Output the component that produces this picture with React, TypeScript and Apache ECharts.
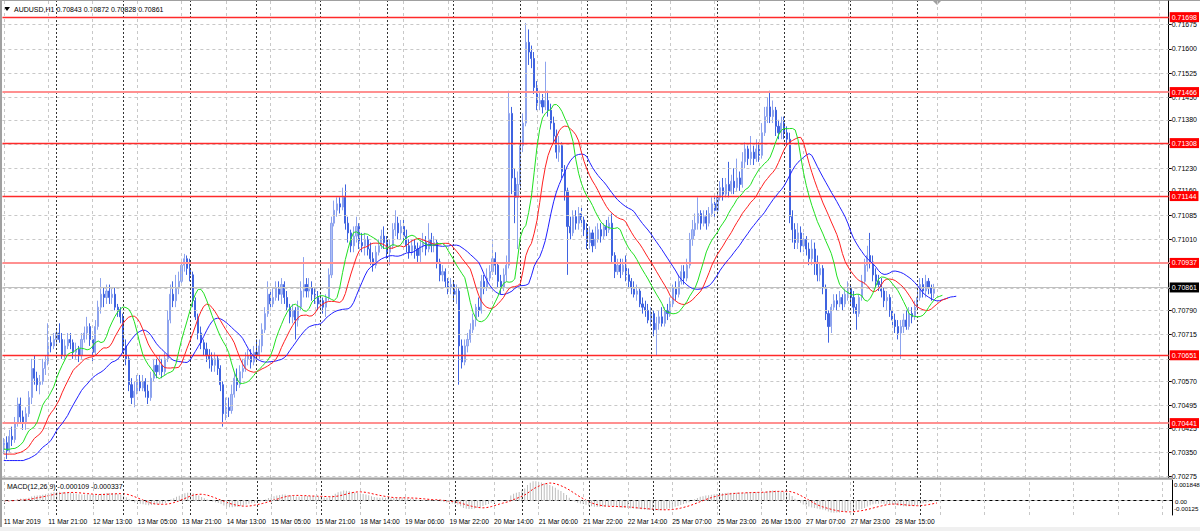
import React, { useEffect, useRef } from "react";
import * as echarts from "echarts";

// ---------- DATA ----------
const SYMBOL = "AUDUSD,H1";
const TIME_LABELS = [
  "11 Mar 2019", "11 Mar 21:00", "12 Mar 13:00", "13 Mar 05:00", "13 Mar 21:00",
  "14 Mar 13:00", "15 Mar 05:00", "15 Mar 21:00", "18 Mar 14:00", "19 Mar 06:00",
  "19 Mar 22:00", "20 Mar 14:00", "21 Mar 06:00", "21 Mar 22:00", "22 Mar 14:00",
  "25 Mar 07:00", "25 Mar 23:00", "26 Mar 15:00", "27 Mar 07:00", "27 Mar 23:00",
  "28 Mar 15:00",
];
const TIME_LABEL_STEP = 16; // bars between time labels / vertical grid lines
const DAY_STARTS = [19, 43, 67, 91, 114, 138, 162, 186, 210, 233, 257, 281, 305, 329];
const PRICE_TICKS = [
  0.71675, 0.716, 0.71525, 0.7145, 0.7138, 0.71305, 0.7123, 0.7116, 0.71085, 0.7101,
  0.70935, 0.7086, 0.7079, 0.70715, 0.7064, 0.7057, 0.70495, 0.70425, 0.7035, 0.70275,
];
const RED_LEVELS = [0.71698, 0.71308, 0.71144, 0.70651];
const PINK_LEVELS = [0.71466, 0.70937, 0.70441];
const MACD_HEADER_VALUES = [-0.000109, -0.000337];
const MACD_AXIS_LABELS = ["0.001848", "0.00", "-0.00125"];
const MACD_MAX = 0.001848;
const MACD_MIN = -0.00128;
const JAW_SEED = 0.70325;
const TEETH_SEED = 0.70345;
const LIPS_SEED = 0.7036;

// hourly candles [open, high, low, close] in 1e-5 units, 11 Mar 05:00 .. 29 Mar 06:00
const CANDLES: number[][] = [
  // 11 Mar
  [70360,70395,70345,70380],[70380,70400,70330,70355],[70355,70420,70350,70400],[70400,70430,70370,70390],
  [70390,70460,70380,70440],[70440,70520,70430,70500],[70500,70520,70440,70460],[70460,70480,70420,70440],
  [70440,70490,70420,70470],[70470,70540,70460,70520],[70520,70640,70500,70610],[70610,70650,70560,70580],
  [70580,70600,70540,70560],[70560,70590,70530,70570],[70570,70640,70560,70610],[70610,70650,70590,70630],
  [70630,70750,70620,70690],[70690,70710,70660,70680],[70680,70720,70670,70700],
  // 12 Mar
  [70700,70730,70680,70720],[70720,70750,70690,70700],[70700,70720,70640,70650],[70650,70700,70640,70680],
  [70680,70720,70670,70700],[70700,70720,70670,70690],[70690,70700,70640,70660],[70660,70690,70640,70670],
  [70670,70680,70630,70650],[70650,70720,70640,70700],[70700,70740,70690,70720],[70720,70770,70700,70740],
  [70740,70750,70680,70700],[70700,70710,70630,70660],[70660,70760,70650,70740],[70740,70820,70730,70800],
  [70800,70890,70780,70840],[70840,70860,70800,70830],[70830,70870,70810,70850],[70850,70870,70810,70830],
  [70830,70860,70810,70840],[70840,70860,70790,70800],[70800,70810,70770,70790],[70790,70800,70750,70770],
  // 13 Mar
  [70770,70780,70660,70680],[70680,70700,70620,70640],[70640,70650,70540,70560],[70560,70580,70500,70520],
  [70520,70570,70490,70540],[70540,70590,70530,70570],[70570,70590,70540,70550],[70550,70590,70540,70570],
  [70570,70580,70520,70540],[70540,70560,70500,70520],[70520,70600,70510,70580],[70580,70640,70570,70620],
  [70620,70640,70580,70600],[70600,70650,70590,70620],[70620,70640,70580,70600],[70600,70660,70590,70640],
  [70640,70790,70630,70760],[70760,70870,70750,70840],[70840,70880,70800,70820],[70820,70900,70800,70860],
  [70860,70910,70840,70880],[70880,70950,70870,70930],[70930,70965,70910,70950],[70950,70960,70900,70920],
  // 14 Mar
  [70920,70950,70880,70900],[70900,70910,70800,70820],[70820,70830,70760,70770],[70770,70780,70700,70720],
  [70720,70740,70670,70690],[70690,70700,70650,70670],[70670,70690,70630,70650],[70650,70670,70610,70640],
  [70640,70660,70600,70620],[70620,70660,70600,70640],[70640,70650,70590,70610],[70610,70620,70540,70560],
  [70560,70570,70430,70470],[70470,70520,70450,70490],[70490,70520,70460,70480],[70480,70560,70470,70530],
  [70530,70600,70520,70580],[70580,70610,70540,70560],[70560,70620,70550,70600],[70600,70640,70580,70610],
  [70610,70660,70600,70640],[70640,70670,70620,70650],[70650,70670,70610,70630],[70630,70680,70620,70660],
  // 15 Mar
  [70660,70700,70630,70650],[70650,70700,70640,70680],[70680,70750,70660,70730],[70730,70800,70720,70780],
  [70780,70880,70770,70840],[70840,70850,70790,70810],[70810,70860,70800,70830],[70830,70880,70820,70860],
  [70860,70880,70820,70840],[70840,70890,70810,70870],[70870,70880,70810,70830],[70830,70850,70790,70800],
  [70800,70810,70750,70770],[70770,70810,70750,70790],[70790,70800,70700,70760],[70760,70820,70740,70800],
  [70800,70880,70790,70850],[70850,70955,70830,70870],[70870,70890,70830,70850],[70850,70890,70830,70860],
  [70860,70880,70820,70840],[70840,70860,70810,70830],[70830,70850,70790,70810],
  // 18 Mar
  [70810,70840,70790,70820],[70820,70830,70780,70800],[70800,70840,70770,70830],[70830,70920,70820,70900],
  [70900,71080,70890,71060],[71060,71130,71050,71100],[71100,71140,71080,71120],[71120,71140,71090,71110],
  [71110,71170,71100,71140],[71140,71180,71040,71060],[71060,71080,71000,71030],[71030,71040,70970,70990],
  [70990,71050,70970,71020],[71020,71080,71000,71050],[71050,71060,70980,71000],[71000,71030,70970,70990],
  [70990,71030,70960,71010],[71010,71020,70960,70980],[70980,71000,70930,70950],[70950,70970,70910,70930],
  [70930,70990,70920,70970],[70970,71010,70960,70990],[70990,71040,70980,71020],[71020,71050,70980,71000],
  // 19 Mar
  [71000,71020,70950,70970],[70970,71010,70930,70990],[70990,71060,70980,71040],[71040,71100,71020,71060],
  [71060,71080,71010,71030],[71030,71070,71010,71050],[71050,71070,71000,71020],[71020,71040,70970,70990],
  [70990,71010,70950,70970],[70970,71010,70960,70990],[70990,71010,70950,70980],[70980,71000,70940,70960],
  [70960,71010,70940,70990],[70990,71030,70970,71000],[71000,71020,70960,70980],[70980,71060,70970,71010],
  [71010,71030,70970,70990],[70990,71020,70970,71000],[71000,71010,70920,70940],[70940,70950,70880,70900],
  [70900,70930,70880,70910],[70910,70920,70860,70880],[70880,70890,70840,70860],[70860,70890,70840,70870],
  // 20 Mar
  [70870,70880,70820,70840],[70840,70870,70810,70850],[70850,70860,70560,70680],[70680,70700,70610,70630],
  [70630,70700,70620,70680],[70680,70720,70660,70700],[70700,70750,70690,70730],[70730,70780,70720,70760],
  [70760,70810,70740,70800],[70800,70830,70770,70790],[70790,70900,70780,70880],[70880,70900,70840,70860],
  [70860,70920,70850,70890],[70890,70930,70880,70910],[70910,71010,70900,70950],[70950,70970,70900,70930],
  [70930,70940,70860,70880],[70880,70900,70840,70860],[70860,70920,70850,70900],[70900,70960,70880,70930],
  [70930,71470,70920,71400],[71400,71420,71150,71200],[71200,71230,71060,71140],[71140,71220,70980,71180],
  // 21 Mar
  [71180,71330,71170,71300],[71300,71400,71280,71370],[71370,71680,71360,71620],[71620,71660,71550,71590],
  [71590,71610,71540,71570],[71570,71590,71460,71480],[71480,71500,71410,71430],[71430,71470,71410,71440],
  [71440,71460,71400,71420],[71420,71560,71410,71440],[71440,71470,71390,71410],[71410,71430,71350,71370],
  [71370,71390,71310,71330],[71330,71350,71260,71280],[71280,71330,71250,71300],[71300,71310,71200,71220],
  [71220,71240,71130,71160],[71160,71170,70900,71050],[71050,71080,71010,71030],[71030,71100,71020,71080],
  [71080,71100,71040,71060],[71060,71110,71040,71090],[71090,71110,71050,71070],[71070,71080,71020,71040],
  // 22 Mar
  [71040,71060,70980,71000],[71000,71050,70980,71030],[71030,71040,70970,70990],[70990,71050,70980,71010],
  [71010,71060,71000,71040],[71040,71060,71000,71020],[71020,71060,71010,71050],[71050,71070,71020,71040],
  [71040,71080,71030,71060],[71060,71090,70940,70960],[70960,70970,70890,70910],[70910,70950,70900,70930],
  [70930,70950,70890,70910],[70910,70950,70900,70930],[70930,70960,70880,70900],[70900,70920,70860,70880],
  [70880,70890,70840,70860],[70860,70880,70830,70840],[70840,70870,70820,70850],[70850,70860,70800,70810],
  [70810,70830,70780,70800],[70800,70820,70770,70790],[70790,70810,70750,70760],
  // 25 Mar
  [70760,70800,70740,70780],[70780,70790,70710,70730],[70730,70770,70650,70750],[70750,70790,70730,70770],
  [70770,70800,70740,70750],[70750,70800,70740,70790],[70790,70810,70760,70780],[70780,70830,70770,70810],
  [70810,70870,70800,70860],[70860,70880,70820,70840],[70840,70900,70830,70880],[70880,70930,70870,70910],
  [70910,70930,70870,70890],[70890,70950,70880,70930],[70930,71030,70920,71010],[71010,71070,70990,71040],
  [71040,71090,71020,71060],[71060,71140,71040,71090],[71090,71100,71040,71060],[71060,71100,71050,71080],
  [71080,71100,71040,71060],[71060,71110,71050,71090],[71090,71140,71080,71120],[71120,71140,71080,71100],
  // 26 Mar
  [71100,71160,71090,71140],[71140,71190,71130,71170],[71170,71200,71130,71150],[71150,71200,71140,71180],
  [71180,71250,71140,71160],[71160,71210,71150,71190],[71190,71230,71150,71170],[71170,71260,71160,71200],
  [71200,71220,71160,71180],[71180,71280,71170,71250],[71250,71310,71230,71290],[71290,71300,71240,71260],
  [71260,71330,71240,71280],[71280,71300,71240,71260],[71260,71320,71250,71290],[71290,71310,71250,71270],
  [71270,71370,71260,71340],[71340,71420,71330,71390],[71390,71450,71370,71420],[71420,71470,71370,71390],
  [71390,71440,71370,71410],[71410,71420,71330,71360],[71360,71380,71320,71340],[71340,71390,71320,71370],
  // 27 Mar
  [71370,71390,71320,71340],[71340,71360,71300,71320],[71320,71340,71060,71080],[71080,71100,71000,71040],
  [71040,71060,70980,71000],[71000,71060,70980,71030],[71030,71050,70970,70990],[70990,71030,70970,71010],
  [71010,71020,70960,70980],[70980,71000,70930,70950],[70950,71010,70930,70980],[70980,71000,70900,70940],
  [70940,70960,70880,70900],[70900,70940,70880,70920],[70920,70930,70840,70860],[70860,70870,70760,70780],
  [70780,70790,70690,70740],[70740,70810,70720,70800],[70800,70840,70790,70820],[70820,70840,70790,70810],
  [70810,70850,70800,70830],[70830,70840,70790,70810],[70810,70860,70800,70840],[70840,70880,70820,70860],
  // 28 Mar
  [70860,70870,70810,70830],[70830,70850,70780,70800],[70800,70810,70730,70780],[70780,70840,70770,70830],
  [70830,70900,70820,70880],[70880,70950,70870,70930],[70930,70990,70910,70960],[70960,71030,70920,70940],
  [70940,70960,70880,70900],[70900,70920,70860,70880],[70880,70900,70850,70870],[70870,70890,70830,70850],
  [70850,70860,70800,70820],[70820,70850,70790,70830],[70830,70840,70770,70790],[70790,70800,70740,70760],
  [70760,70780,70720,70740],[70740,70760,70700,70720],[70720,70760,70640,70740],[70740,70780,70720,70760],
  [70760,70790,70730,70740],[70740,70800,70730,70780],[70780,70800,70750,70770],[70770,70820,70760,70800],
  // 29 Mar
  [70800,70860,70790,70830],[70830,70890,70820,70870],[70870,70890,70830,70850],[70850,70900,70830,70880],
  [70880,70890,70840,70860],[70860,70870,70820,70843],[70843,70872,70828,70861],
];

// ---------- LAYOUT ----------
const W = 1200;
const H = 531;
const SLOTS = 420;
const Y_MIN = 0.70271;
const Y_MAX = 0.71748;
const FONT = "Liberation Sans, Arial, sans-serif";
const JAW_SHIFT = 8;
const TEETH_SHIFT = 5;
const LIPS_SHIFT = 3;

function smma(src: number[], n: number, seed: number) {
  let prev = seed;
  return src.map((v) => (prev = (prev * (n - 1) + v) / n));
}
function ema(src: number[], n: number) {
  const k = 2 / (n + 1);
  let prev = src[0];
  return src.map((v) => (prev = prev + k * (v - prev)));
}

function buildOption() {
  const cats = Array.from({ length: SLOTS }, (_, i) => String(i));
  const candleData = CANDLES.map((c) => [c[0] / 1e5, c[3] / 1e5, c[2] / 1e5, c[1] / 1e5]);
  const median = CANDLES.map((c) => (c[1] + c[2]) / 2 / 1e5);
  const closes = CANDLES.map((c) => c[3] / 1e5);
  const n = CANDLES.length;
  const bid = closes[n - 1];
  const shifted = (raw: number[], shift: number, seed: number) =>
    Array.from({ length: n + shift }, (_, j) => (j < shift ? seed : raw[j - shift]));
  const jaw = shifted(smma(median, 13, JAW_SEED), JAW_SHIFT, JAW_SEED);
  const teeth = shifted(smma(median, 8, TEETH_SEED), TEETH_SHIFT, TEETH_SEED);
  const lips = shifted(smma(median, 5, LIPS_SEED), LIPS_SHIFT, LIPS_SEED);

  const e12 = ema(closes, 12);
  const e26 = ema(closes, 26);
  const macd = e12.map((v, i) => v - e26[i]);
  const signal = macd.map((_, i) => {
    const from = Math.max(0, i - 8);
    const part = macd.slice(from, i + 1);
    return part.reduce((a, b) => a + b, 0) / part.length;
  });

  // tick labels that sit under a price marker are hidden, as on the terminal
  const markers = [...RED_LEVELS, ...PINK_LEVELS, bid];
  const labelTicks = PRICE_TICKS.filter((t) => markers.every((m) => Math.abs(m - t) > 0.00012));

  const nLabels = TIME_LABELS.length;
  const gridIdx = Array.from({ length: Math.floor((SLOTS - 1) / TIME_LABEL_STEP) + 1 }, (_, k) => k * TIME_LABEL_STEP);
  const labelInterval = (index: number) => index % TIME_LABEL_STEP === 0 && index / TIME_LABEL_STEP < nLabels;

  const gridLineStyle = { color: "#c8c8c8", type: [3, 3], width: 1 };
  const dayLineStyle = { color: "#333333", type: [2, 2], width: 1 };

  const vLines = [
    ...gridIdx.map((i) => ({ xAxis: String(i), lineStyle: gridLineStyle })),
    ...DAY_STARTS.map((i) => ({ xAxis: String(i), lineStyle: dayLineStyle })),
  ];

  const levelLabel = (bg: string) => ({
    show: true,
    position: "end",
    distance: 1,
    formatter: (p: any) => Number(p.value).toFixed(5),
    color: "#ffffff",
    backgroundColor: bg,
    fontSize: 7,
    fontFamily: FONT,
    padding: [2, 2, 1, 2],
  });

  const last = CANDLES[n - 1];
  const header = `${SYMBOL} ${(last[0] / 1e5).toFixed(5)} ${(last[1] / 1e5).toFixed(5)} ${(last[2] / 1e5).toFixed(5)} ${(last[3] / 1e5).toFixed(5)}`;
  const macdHeader = `MACD(12,26,9) ${MACD_HEADER_VALUES[0].toFixed(6)} ${MACD_HEADER_VALUES[1].toFixed(6)}`;

  const hidden = { opacity: 0, width: 0 };

  const levelSeries = (name: string, values: number[], color: string, width: number, bg: string, z: number) => ({
    name, type: "line", xAxisIndex: 0, yAxisIndex: 0, data: closes, z, silent: true,
    showSymbol: false, lineStyle: hidden, color,
    markLine: {
      silent: true, symbol: ["none", "none"], animation: false, precision: 6,
      lineStyle: { color, width, type: "solid", opacity: 1 },
      label: levelLabel(bg),
      data: values.map((v) => ({ yAxis: v, lineStyle: { color, width, type: "solid", opacity: 1 } })),
    },
  });

  return {
    animation: false,
    backgroundColor: "#ffffff",
    grid: [
      { left: 2.4, top: 1, width: 1170, height: 477 },
      { left: 2.4, top: 480, width: 1170, height: 35 },
    ],
    xAxis: [
      {
        type: "category", gridIndex: 0, data: cats, boundaryGap: true,
        axisLine: { show: false }, axisTick: { show: false }, axisLabel: { show: false }, splitLine: { show: false },
      },
      {
        type: "category", gridIndex: 1, data: cats, boundaryGap: true,
        axisLine: { show: true, lineStyle: { color: "#000", width: 1 } },
        axisTick: { show: true, alignWithLabel: true, interval: labelInterval, length: 3, lineStyle: { color: "#000" } },
        axisLabel: {
          show: true, interval: labelInterval, align: "left", margin: 3,
          formatter: (v: string) => TIME_LABELS[Number(v) / TIME_LABEL_STEP] ?? "",
          fontSize: 6.7, color: "#000", fontFamily: FONT,
        },
        splitLine: { show: false },
      },
    ],
    yAxis: [
      {
        type: "value", gridIndex: 0, position: "right", min: Y_MIN, max: Y_MAX,
        axisLine: { show: true, lineStyle: { color: "#000", width: 1 } },
        axisTick: { show: true, length: 3, customValues: PRICE_TICKS, lineStyle: { color: "#000" } },
        axisLabel: {
          show: true, customValues: labelTicks, margin: 3,
          formatter: (v: number) => v.toFixed(5), fontSize: 7, color: "#000", fontFamily: FONT,
        },
        splitLine: { show: false },
      },
      {
        type: "value", gridIndex: 1, position: "right", min: MACD_MIN, max: MACD_MAX,
        axisLine: { show: true, lineStyle: { color: "#000", width: 1 } },
        axisTick: { show: false }, axisLabel: { show: false }, splitLine: { show: false },
      },
    ],
    series: [
      {
        name: "grid", type: "line", xAxisIndex: 0, yAxisIndex: 0, data: closes, z: 1, silent: true,
        showSymbol: false, lineStyle: hidden,
        markLine: {
          silent: true, symbol: ["none", "none"], label: { show: false }, animation: false, precision: 6,
          data: [...PRICE_TICKS.map((v) => ({ yAxis: v, lineStyle: gridLineStyle })), ...vLines],
        },
      },
      {
        name: "AUDUSD", type: "candlestick", xAxisIndex: 0, yAxisIndex: 0, data: candleData, z: 3,
        barWidth: 1.6,
        itemStyle: { color: "#aebff4", color0: "#3f63e0", borderColor: "#8da3ee", borderColor0: "#3f63e0", borderWidth: 1 },
      },
      levelSeries("bid", [bid], "#c0c0c0", 1, "#000000", 4),
      levelSeries("pinkLevels", PINK_LEVELS, "#ff9090", 2, "#ff0000", 4),
      levelSeries("redLevels", RED_LEVELS, "#ff2a2a", 1.3, "#ff0000", 4),
      { name: "Jaw", type: "line", xAxisIndex: 0, yAxisIndex: 0, data: jaw, showSymbol: false, z: 5, lineStyle: { color: "#2020ff", width: 1 } },
      { name: "Teeth", type: "line", xAxisIndex: 0, yAxisIndex: 0, data: teeth, showSymbol: false, z: 5, lineStyle: { color: "#ff2020", width: 1 } },
      { name: "Lips", type: "line", xAxisIndex: 0, yAxisIndex: 0, data: lips, showSymbol: false, z: 5, lineStyle: { color: "#20e020", width: 1 } },
      {
        name: "macdGrid", type: "line", xAxisIndex: 1, yAxisIndex: 1, data: macd, z: 1, silent: true,
        showSymbol: false, lineStyle: hidden,
        markLine: {
          silent: true, symbol: ["none", "none"], label: { show: false }, animation: false, precision: 8,
          data: [{ yAxis: 0, lineStyle: gridLineStyle }, ...vLines],
        },
      },
      {
        name: "MACD", type: "bar", xAxisIndex: 1, yAxisIndex: 1, data: macd, barWidth: 1, z: 2,
        itemStyle: { color: "#bdbdbd" },
      },
      {
        name: "Signal", type: "line", xAxisIndex: 1, yAxisIndex: 1, data: signal, showSymbol: false, z: 3,
        lineStyle: { color: "#ff0000", width: 1, type: [2, 2] },
      },
    ],
    graphic: [
      { type: "rect", shape: { x: 0, y: 527, width: W, height: 4 }, style: { fill: "#f0f0f0" }, silent: true },
      { type: "line", shape: { x1: 1, y1: 0, x2: 1, y2: 527 }, style: { stroke: "#a0a0a0", lineWidth: 2 }, silent: true },
      { type: "line", shape: { x1: 0, y1: 0.5, x2: W, y2: 0.5 }, style: { stroke: "#a0a0a0", lineWidth: 1 }, silent: true },
      { type: "rect", shape: { x: 2, y: 477.5, width: 1170.4, height: 2.2 }, style: { fill: "#a0a0a0" }, silent: true, z: 10 },
      { type: "polygon", shape: { points: [[4, 7], [10, 7], [7, 11]] }, style: { fill: "#000" }, silent: true },
      { type: "polygon", shape: { points: [[933, 1], [941, 1], [937, 5]] }, style: { fill: "#a0a0a0" }, silent: true },
      { type: "text", x: 14, y: 9, style: { text: header, fill: "#000", fontSize: 7, fontFamily: FONT, verticalAlign: "middle" }, silent: true },
      { type: "text", x: 7, y: 486, style: { text: macdHeader, fill: "#000", fontSize: 7, fontFamily: FONT, verticalAlign: "middle" }, silent: true },
      { type: "text", x: 1174, y: 484, style: { text: MACD_AXIS_LABELS[0], fill: "#000", fontSize: 6.2, fontFamily: FONT, verticalAlign: "middle" }, silent: true },
      { type: "text", x: 1175, y: 501, style: { text: MACD_AXIS_LABELS[1], fill: "#000", fontSize: 6.2, fontFamily: FONT, verticalAlign: "middle" }, silent: true },
      { type: "text", x: 1174, y: 508, style: { text: MACD_AXIS_LABELS[2], fill: "#000", fontSize: 6.2, fontFamily: FONT, verticalAlign: "middle" }, silent: true },
    ],
  };
}

export default function App() {
  const ref = useRef<HTMLDivElement>(null);
  useEffect(() => {
    if (!ref.current) return;
    const chart = echarts.init(ref.current, null, { renderer: "svg" });
    chart.setOption(buildOption() as any);
    return () => chart.dispose();
  }, []);
  return (
    <div
      ref={ref}
      style={{ position: "fixed", left: 0, top: 0, width: W, height: H, background: "#ffffff" }}
    />
  );
}
